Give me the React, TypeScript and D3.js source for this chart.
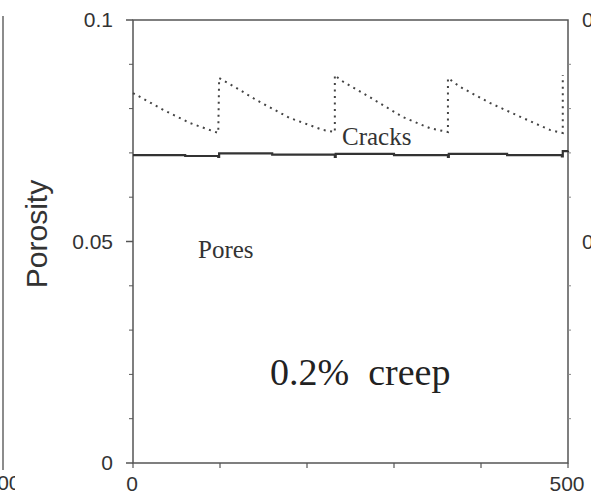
import React, { Component, createRef } from 'react';
import * as d3 from 'd3';

const width = 591;
const height = 501;

// time axis (hours) and porosity readings taken off the figure
const cracksTime = [0, 35, 66, 98, 99, 117, 142, 180, 218, 232, 232, 238, 272, 310, 341, 362, 362, 376, 410, 448, 479, 489, 494, 494];
const cracksPorosity = [0.0835, 0.0797, 0.0767, 0.0745, 0.0869, 0.0849, 0.0819, 0.0779, 0.0752, 0.0747, 0.0876, 0.0865, 0.0826, 0.0781, 0.0756, 0.0747, 0.0869, 0.0849, 0.0813, 0.0779, 0.0752, 0.0747, 0.0745, 0.0876];

const poresTime = [0, 60, 98, 99, 160, 232, 233, 300, 362, 363, 430, 493, 494, 500];
const poresPorosity = [0.0695, 0.0693, 0.0691, 0.0699, 0.0696, 0.0691, 0.0698, 0.0695, 0.0691, 0.0698, 0.0695, 0.0692, 0.0704, 0.0705];

const yMajor = [0, 0.05, 0.1];
const yMinor = [0.01, 0.02, 0.03, 0.04, 0.06, 0.07, 0.08, 0.09];
const xTicks = [100, 200, 300, 400];

const x = d3.scaleLinear().domain([0, 500]).range([133, 568]);
const y = d3.scaleLinear().domain([0, 0.1]).range([463, 20]);

class CreepChart extends Component {
	svgRef = createRef<SVGSVGElement>();

	componentDidMount() {
		const svg = d3.select(this.svgRef.current);
		svg.selectAll('*').remove();
		this.drawNeighbours(svg);
		this.drawFrame(svg);
		this.drawLines(svg);
		this.addLabels(svg);
	}

	// bits of the adjoining panels that show at the edges
	drawNeighbours(svg) {
		svg.append('clipPath').attr('id', 'left-clip')
			.append('rect').attr('x', 0).attr('y', 0).attr('width', 15).attr('height', height);
		svg.append('line')
			.attr('x1', 3).attr('x2', 3).attr('y1', 16).attr('y2', 470)
			.style('stroke', '#666').style('stroke-width', 1.5);
		svg.append('text')
			.attr('clip-path', 'url(#left-clip)')
			.attr('x', 3).attr('y', 490)
			.attr('text-anchor', 'middle')
			.style('font-family', 'Liberation Sans, Arial, sans-serif')
			.style('font-size', '21px').style('fill', '#333')
			.text('500');
		svg.selectAll('.right-lbl')
			.data(['0.1', '0.05'])
			.enter()
			.append('text')
			.attr('class', 'right-lbl')
			.attr('x', 582)
			.attr('y', (d) => y(+d) + 7)
			.style('font-family', 'Liberation Sans, Arial, sans-serif')
			.style('font-size', '21px').style('fill', '#333')
			.text((d) => d);
	}

	drawFrame(svg) {
		const axisColor = '#555';
		svg.append('rect')
			.attr('x', x(0)).attr('y', y(0.1))
			.attr('width', x(500) - x(0)).attr('height', y(0) - y(0.1))
			.style('fill', 'none').style('stroke', axisColor).style('stroke-width', 1.5);

		svg.selectAll('.ymaj')
			.data(yMajor)
			.enter()
			.append('line')
			.attr('x1', x(0) - 7).attr('x2', x(0))
			.attr('y1', (d) => y(d)).attr('y2', (d) => y(d))
			.style('stroke', axisColor).style('stroke-width', 1.5);

		svg.selectAll('.ymin')
			.data(yMinor)
			.enter()
			.append('line')
			.attr('x1', x(0) - 4).attr('x2', x(0))
			.attr('y1', (d) => y(d)).attr('y2', (d) => y(d))
			.style('stroke', axisColor).style('stroke-width', 1);

		svg.selectAll('.ymin-r')
			.data(yMinor)
			.enter()
			.append('line')
			.attr('x1', x(500)).attr('x2', x(500) + 3)
			.attr('y1', (d) => y(d)).attr('y2', (d) => y(d))
			.style('stroke', '#888').style('stroke-width', 1);

		svg.selectAll('.xtick')
			.data([0, ...xTicks, 500])
			.enter()
			.append('line')
			.attr('x1', (d) => x(d)).attr('x2', (d) => x(d))
			.attr('y1', y(0)).attr('y2', y(0) + 5)
			.style('stroke', axisColor).style('stroke-width', 1.2);
	}

	drawLines(svg) {
		const cracks = d3.line<number>()
			.x((d) => x(cracksTime[d]))
			.y((d) => y(cracksPorosity[d]))
			.curve(d3.curveLinear);
		svg.append('path')
			.attr('d', cracks(d3.range(cracksTime.length)))
			.style('fill', 'none')
			.style('stroke', '#444')
			.style('stroke-width', 2)
			.style('stroke-dasharray', '2,4.5');

		const pores = d3.line<number>()
			.x((d) => x(poresTime[d]))
			.y((d) => y(poresPorosity[d]))
			.curve(d3.curveStepAfter);
		svg.append('path')
			.attr('d', pores(d3.range(poresTime.length)))
			.style('fill', 'none')
			.style('stroke', '#333')
			.style('stroke-width', 2.2);
	}

	addLabels(svg) {
		const sans = 'Liberation Sans, Arial, sans-serif';
		const serif = 'Liberation Serif, Times New Roman, serif';

		svg.selectAll('.ylbl')
			.data(yMajor)
			.enter()
			.append('text')
			.attr('x', x(0) - 20)
			.attr('y', (d) => y(d) + 7)
			.attr('text-anchor', 'end')
			.style('font-family', sans).style('font-size', '21px').style('fill', '#333')
			.text((d) => (d === 0 ? '0' : String(d)));

		svg.selectAll('.xlbl')
			.data([0, 500])
			.enter()
			.append('text')
			.attr('x', (d) => x(d) - 1)
			.attr('y', 491)
			.attr('text-anchor', 'middle')
			.style('font-family', sans).style('font-size', '21px').style('fill', '#333')
			.text((d) => String(d));

		svg.append('text')
			.attr('transform', 'translate(47,234) rotate(-90)')
			.attr('text-anchor', 'middle')
			.style('font-family', sans).style('font-size', '30px').style('fill', '#333')
			.text('Porosity');

		svg.append('text')
			.attr('x', 198).attr('y', 258)
			.style('font-family', serif).style('font-size', '25px').style('fill', '#333')
			.text('Pores');

		svg.append('text')
			.attr('x', 342).attr('y', 145)
			.style('font-family', serif).style('font-size', '25px').style('fill', '#333')
			.text('Cracks');

		svg.append('text')
			.attr('x', 270).attr('y', 385)
			.style('font-family', serif).style('font-size', '38px').style('fill', '#222')
			.style('white-space', 'pre')
			.text('0.2%  creep');
	}

	render() {
		return (
			<svg ref={this.svgRef} width={width} height={height}
				style={{ position: 'absolute', left: 0, top: 0, background: '#fff' }} />
		);
	}
}

export default function App() {
	return <CreepChart />;
}
